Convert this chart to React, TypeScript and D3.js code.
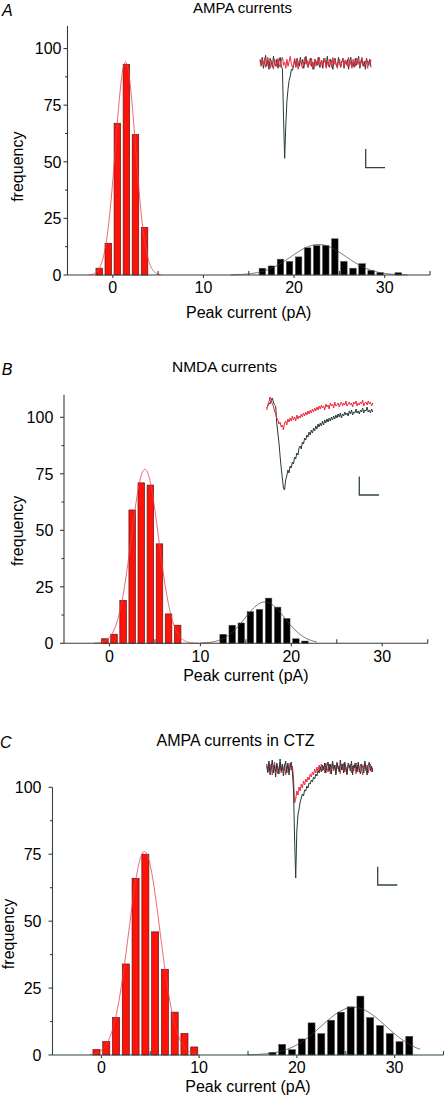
import React from 'react';
import * as d3 from 'd3';

const FONT = "Arial, 'Liberation Sans', Helvetica, sans-serif";

// ---------------- data ----------------
const xTicks = [0, 10, 20, 30];
const xMinorTicks = [5, 15, 25, 35];
const yTicks = [0, 25, 50, 75, 100];
const yMinorTicks = [12.5, 37.5, 62.5, 87.5];

// Panel A – AMPA currents
const redCentersA = [-1.5, -0.5, 0.5, 1.5, 2.5, 3.5];
const redCountsA = [3, 14, 67, 93, 62, 21];
const blackCentersA = [16.5, 17.5, 18.5, 19.5, 20.5, 21.5, 22.5, 23.5, 24.5, 25.5, 26.5, 27.5, 28.5, 29.5, 31.5];
const blackCountsA = [3, 4, 7, 6, 8, 12, 13, 13, 16, 6, 3, 5, 2, 1, 1];
const redFitA = [94, 1.4, 1.1];
const redFitRangeA = [-2.6, 5.3];
const blackFitA = [13.5, 22.7, 3.0];
const blackFitRangeA = [13, 32.5];

// Panel B – NMDA currents
const redCentersB = [-0.5, 0.5, 1.5, 2.5, 3.5, 4.5, 5.5, 6.5, 7.5];
const redCountsB = [2, 4, 19, 59, 71, 70, 44, 13, 8];
const blackCentersB = [12.5, 13.5, 14.5, 15.5, 16.5, 17.5, 18.5, 19.5, 20.5, 21.5];
const blackCountsB = [4, 8, 9, 14, 15, 20, 16, 11, 2, 1];
const redFitB = [77, 3.9, 1.5];
const redFitRangeB = [-1.7, 9.8];
const blackFitB = [18.3, 17.1, 2.2];
const blackFitRangeB = [10, 22.8];

// Panel C – AMPA currents in CTZ
const redCentersC = [-0.5, 0.5, 1.5, 2.5, 3.5, 4.5, 5.5, 6.5, 7.5, 8.5, 9.5];
const redCountsC = [2, 5, 14, 34, 66, 75, 46, 32, 16, 8, 3];
const blackCentersC = [17.5, 18.5, 19.5, 20.5, 21.5, 22.5, 23.5, 24.5, 25.5, 26.5, 27.5, 28.5, 29.5, 30.5, 31.5];
const blackCountsC = [1, 4, 2, 6, 12, 8, 13, 16, 18, 22, 14, 11, 8, 5, 7];
const redFitC = [76, 4.4, 1.6];
const redFitRangeC = [-1.2, 10];
const blackFitC = [17.8, 25.8, 3.3];
const blackFitRangeC = [15, 32.6];

// Example current traces (relative amplitude samples)
const redTraceA = [2,-3,4,-1,5,-4,1,6,-2,-5,3,0,-6,4,2,-3,5,-1,-4,3,6,-2,1,-5,4,-3,2,7,-1,-4,0,5,-3,3,-6,2,4,-2,-5,1,6,-1,3,-4,2,-2,5,-6,0,4,-3,2,-1,6,-4,3,-2,1,5,-5,2,-3,4,0,-4,6,-1,3,-2,-5,2,4,-3,1,5,-4,3,-1,-3,6,-2,2,-5,4,0,-3,5,-1,2,-4,3,6,-2,-3,1,4,-5,2,-1,3];
const blackTraceA = [4,-2,6,-5,1,8,-3,3,-6,5,2,-4,7,0,-3,4,-5,2,6,-2,-6,-55,-95,-62,-38,-26,-17,-13,-6,-7,-2,3,-4,5,1,-3,6,-2,4,-5,2,7,-1,-4,3,5,-3,1,-6,4,2,-2,6,-4,0,3,-5,5,2,-3,7,-1,-4,4,1,-6,3,5,-2,-3,6,0,-4,2,5,-5,3,-1,4,-6,2,6,-3,1,-4,5,-2,3,7,-5,0,4,-3,2,-6,5,1,-2,4,-4];
const redTraceB = [-2,3,6,11,8,4,2,-3,-6,-10,-12,-16,-14,-19,-17,-22,-15,-13,-17,-11,-14,-10,-13,-8,-12,-9,-13,-7,-11,-8,-10,-6,-9,-5,-8,-4,-7,-3,-6,-2,-5,-1,-4,0,-3,1,-2,2,-1,3,0,2,-2,4,1,3,-1,5,2,4,0,6,2,3,5,1,4,6,2,5,3,7,2,4,6,3,5,1,6,4,7,2,5,3,6,4,8,2,5,6,3,7,4,6,2,5];
const blackTraceB = [0,2,5,4,8,10,6,3,2,-15,-25,-35,-48,-60,-70,-80,-82,-72,-68,-62,-65,-58,-60,-54,-56,-49,-51,-45,-47,-40,-38,-41,-34,-36,-30,-32,-27,-29,-24,-27,-22,-25,-20,-23,-18,-21,-16,-19,-15,-18,-13,-17,-12,-15,-11,-14,-10,-13,-9,-12,-8,-11,-7,-10,-6,-9,-5,-10,-6,-8,-4,-7,-5,-8,-3,-6,-2,-7,-4,-5,-1,-5,-3,-6,-2,-4,0,-5,-2,-3,1,-4,-2,-5,-1,-4];
const redTraceC = [3,-4,6,-2,5,-6,2,7,-3,4,-5,1,6,-4,3,-2,5,-6,2,4,-3,6,-1,3,-8,-34,-30,-22,-26,-18,-22,-15,-19,-12,-16,-10,-13,-8,-11,-5,-8,-3,-6,0,-4,2,-3,4,-1,5,-2,3,-4,6,1,-3,5,-5,2,6,-2,4,-4,7,0,3,-5,5,-1,6,-3,2,-6,4,1,5,-4,3,-2,6,-5,2,4,-3,5,0,-6,3,6,-2,4,-4,2,5,-3,1];
const blackTraceC = [5,-3,8,-6,2,9,-4,4,-8,6,1,-5,10,-2,5,-7,3,8,-4,6,-6,2,7,-3,-20,-70,-109,-62,-46,-40,-33,-29,-25,-27,-21,-22,-17,-19,-14,-15,-11,-13,-8,-10,-5,-7,-2,-4,2,-3,4,-1,6,-4,3,7,-2,5,-5,8,0,4,-6,6,2,-3,9,-1,5,-4,7,1,-5,6,3,-2,8,-6,4,1,6,-3,7,-1,-5,5,2,-4,8,0,-6,4,7,-2,3,-3];

// ---------------- layout ----------------
const panels = [
  {
    letter: 'A', title: 'AMPA currents',
    redC: redCentersA, redN: redCountsA, blackC: blackCentersA, blackN: blackCountsA,
    redFit: redFitA, redRange: redFitRangeA, blackFit: blackFitA, blackRange: blackFitRangeA,
    redTrace: redTraceA, blackTrace: blackTraceA, redOnTop: true,
    L: {
      letterX: 2, letterY: 16, titleX: 242.5, titleY: 12.5, titleSize: 15,
      x0: 67.5, x1: 430, y0: 275, yTop: 25.9, yMax: 110, labelGap: 6,
      xTickY: 293.3, xLabelY: 317.5, freqX: 22.6, freqY: 166.7, axisColor: '#3a3a3a',
      ins: { x0: 260, x1: 371, base: 63.3, sbX: 365.7, sbTop: 149, sbBottom: 167.7, sbRight: 385 },
    },
  },
  {
    letter: 'B', title: 'NMDA currents',
    redC: redCentersB, redN: redCountsB, blackC: blackCentersB, blackN: blackCountsB,
    redFit: redFitB, redRange: redFitRangeB, blackFit: blackFitB, blackRange: blackFitRangeB,
    redTrace: redTraceB, blackTrace: blackTraceB, redOnTop: true,
    L: {
      letterX: 1.7, letterY: 375, titleX: 224.5, titleY: 371.7, titleSize: 15.5,
      x0: 64, x1: 427.7, y0: 643.3, yTop: 394.7, yMax: 110, labelGap: 10.7,
      xTickY: 661.6, xLabelY: 681, freqX: 23.3, freqY: 530.8, axisColor: '#3a3a3a',
      ins: { x0: 266.7, x1: 372.7, base: 408, sbX: 359.3, sbTop: 476.5, sbBottom: 495, sbRight: 379 },
    },
  },
  {
    letter: 'C', title: 'AMPA currents in CTZ',
    redC: redCentersC, redN: redCountsC, blackC: blackCentersC, blackN: blackCountsC,
    redFit: redFitC, redRange: redFitRangeC, blackFit: blackFitC, blackRange: blackFitRangeC,
    redTrace: redTraceC, blackTrace: blackTraceC, redOnTop: false,
    L: {
      letterX: 0, letterY: 748.3, titleX: 235.5, titleY: 746, titleSize: 16,
      x0: 52.5, x1: 443.5, y0: 1055, yTop: 787.3, yMax: 100, labelGap: 11,
      xTickY: 1073.3, xLabelY: 1091.5, freqX: 13.8, freqY: 934, axisColor: '#2f4545',
      ins: { x0: 266.7, x1: 372.7, base: 769, sbX: 377.7, sbTop: 866.7, sbBottom: 885, sbRight: 397.3 },
    },
  },
];

const X_DOMAIN = [-5, 35];

function gaussPts(f: number[], r: number[]) {
  return d3.range(r[0], r[1] + 1e-9, 0.05).map((v) => [v, f[0] * Math.exp(-((v - f[1]) ** 2) / (2 * f[2] * f[2]))]);
}

function Panel({ p }: { p: any }) {
  const L = p.L;
  const x = d3.scaleLinear().domain(X_DOMAIN).range([L.x0, L.x1]);
  const y = d3.scaleLinear().domain([0, L.yMax]).range([L.y0, L.yTop]);
  const bw = (x(1) - x(0)) * 0.72;
  const line = d3.line<number[]>().x((d) => x(d[0])).y((d) => y(d[1]));

  const ins = L.ins;
  const tx = (n: number) => d3.scaleLinear().domain([0, n - 1]).range([ins.x0, ins.x1]);
  const ty = d3.scaleLinear().domain([0, -100]).range([ins.base, ins.base + 100]);
  const traceLine = (arr: number[]) => {
    const sx = tx(arr.length);
    return d3.line<number>().x((_, i) => sx(i)).y((d) => ty(d))(arr) || '';
  };
  const redPath = <path d={traceLine(p.redTrace)} fill="none" stroke="#f0283c" strokeWidth={1} strokeLinejoin="round" />;
  const blackPath = <path d={traceLine(p.blackTrace)} fill="none" stroke="#263a3a" strokeWidth={1} strokeLinejoin="round" />;

  return (
    <g>
      <text x={L.letterX} y={L.letterY} fontSize={16} fontStyle="italic">{p.letter}</text>
      <text x={L.titleX} y={L.titleY} fontSize={L.titleSize} textAnchor="middle">{p.title}</text>

      {/* bars */}
      {p.redC.map((c: number, i: number) => (
        <rect key={'r' + i} x={x(c) - bw / 2} y={y(p.redN[i])} width={bw} height={L.y0 - y(p.redN[i])}
          fill="#ff1208" stroke="#5a1a1a" strokeWidth={0.7} />
      ))}
      {p.blackC.map((c: number, i: number) => (
        <rect key={'b' + i} x={x(c) - bw / 2} y={y(p.blackN[i])} width={bw} height={L.y0 - y(p.blackN[i])}
          fill="#000" stroke="#555" strokeWidth={0.5} />
      ))}

      {/* fits */}
      <path d={line(gaussPts(p.redFit, p.redRange)) || ''} fill="none" stroke="#e8404a" strokeWidth={0.8} />
      <path d={line(gaussPts(p.blackFit, p.blackRange)) || ''} fill="none" stroke="#404040" strokeWidth={0.8} />

      {/* axes */}
      <g stroke={L.axisColor} strokeWidth={1.1}>
        <line x1={L.x0} x2={L.x1} y1={L.y0} y2={L.y0} />
        <line x1={L.x0} x2={L.x0} y1={L.y0} y2={L.yTop} />
        {yTicks.map((t) => <line key={'yt' + t} x1={L.x0 - 4} x2={L.x0} y1={y(t)} y2={y(t)} />)}
        {yMinorTicks.map((t) => <line key={'ym' + t} x1={L.x0 - 2.5} x2={L.x0} y1={y(t)} y2={y(t)} />)}
        {xTicks.map((t) => <line key={'xt' + t} x1={x(t)} x2={x(t)} y1={L.y0} y2={L.y0 + 3} />)}
        {xMinorTicks.map((t) => <line key={'xm' + t} x1={x(t)} x2={x(t)} y1={L.y0} y2={L.y0 - 4} />)}
      </g>
      {yTicks.map((t) => (
        <text key={'yl' + t} x={L.x0 - L.labelGap} y={y(t)} dy="0.36em" fontSize={16} textAnchor="end">{t}</text>
      ))}
      {xTicks.map((t) => (
        <text key={'xl' + t} x={x(t)} y={L.xTickY} fontSize={16} textAnchor="middle">{t}</text>
      ))}
      <text x={(L.x0 + L.x1) / 2} y={L.xLabelY} fontSize={16} textAnchor="middle">Peak current (pA)</text>
      <text transform={`translate(${L.freqX},${L.freqY}) rotate(-90)`} fontSize={16} textAnchor="middle">frequency</text>

      {/* example traces */}
      {p.redOnTop ? <g>{blackPath}{redPath}</g> : <g>{redPath}{blackPath}</g>}
      <path d={`M${ins.sbX},${ins.sbTop}V${ins.sbBottom}H${ins.sbRight}`} fill="none" stroke="#2f4545" strokeWidth={1.3} />
    </g>
  );
}

export default function App() {
  return (
    <svg width={446} height={1104} style={{ position: 'absolute', left: 0, top: 0, background: '#fff' }} fontFamily={FONT}>
      {panels.map((p) => <Panel key={p.letter} p={p} />)}
    </svg>
  );
}
